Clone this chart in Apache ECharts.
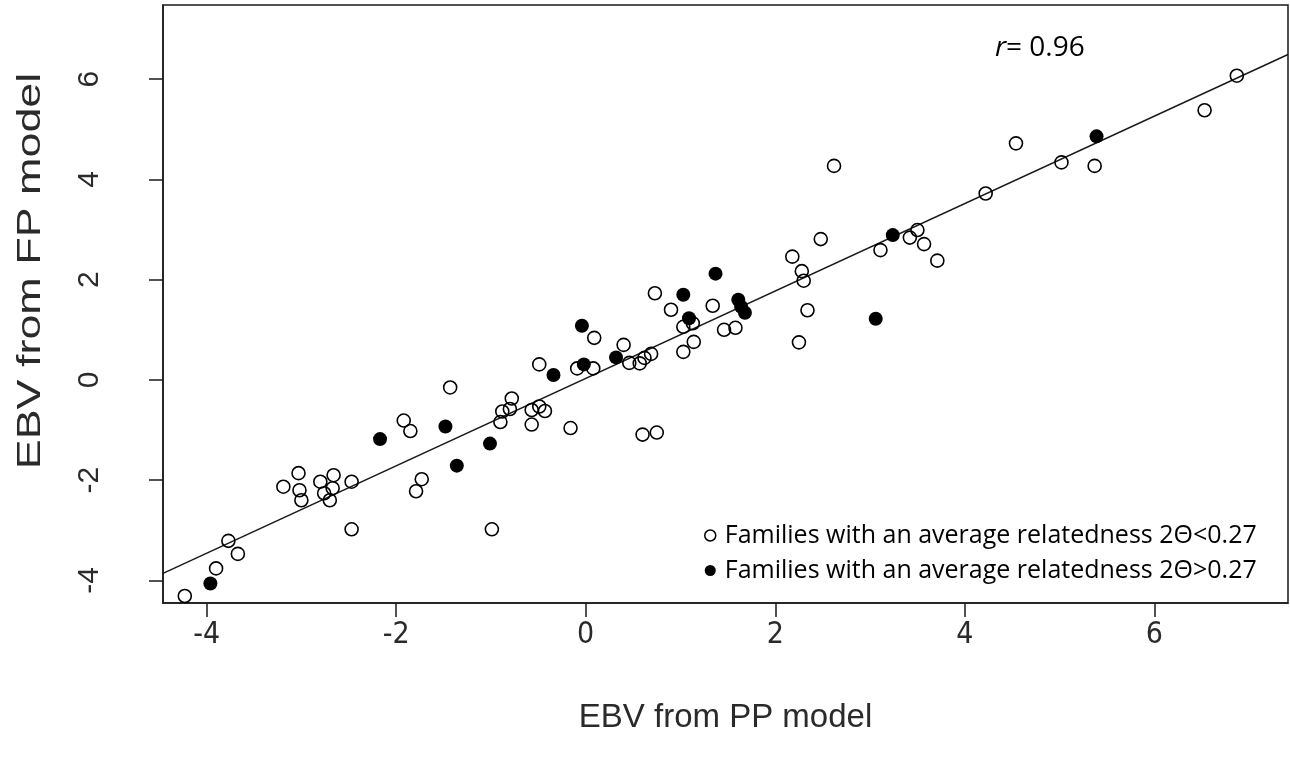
<!DOCTYPE html>
<html>
<head>
<meta charset="utf-8">
<script src="https://cdn.jsdelivr.net/npm/echarts@6/dist/echarts.min.js"></script>
<style>
  html, body { margin: 0; padding: 0; background: #fff; }
  #main { width: 1290px; height: 765px; }
</style>
</head>
<body>
<div id="main"></div>
<script>
// families with average relatedness 2Θ < 0.27 (open circles)
const openX = [-4.23, -3.90, -3.77, -3.67, -3.19, -3.03, -3.02, -3.00, -2.80, -2.66, -2.67, -2.76, -2.70, -2.47, -2.47,
  -1.92, -1.85, -1.73, -1.79, -1.43, -0.99, -0.90, -0.88, -0.80, -0.78, -0.57, -0.57, -0.49, -0.43, -0.16,
  -0.49, -0.09, 0.08, 0.09, 0.40, 0.46, 0.57, 0.62, 0.69, 0.60, 0.75, 0.73, 0.90, 1.03, 1.13, 1.14, 1.03,
  1.34, 1.46, 1.58, 2.18, 2.28, 2.30, 2.34, 2.25, 2.48, 2.62, 3.11, 3.42, 3.50, 3.57, 3.71, 4.22, 4.54,
  5.02, 5.37, 6.53, 6.87];
const openY = [-4.31, -3.76, -3.21, -3.47, -2.13, -1.86, -2.20, -2.40, -2.03, -1.90, -2.16, -2.26, -2.40, -2.03, -2.98,
  -0.81, -1.02, -1.98, -2.22, -0.15, -2.98, -0.84, -0.63, -0.58, -0.37, -0.60, -0.89, -0.53, -0.62, -0.96,
  0.31, 0.23, 0.23, 0.84, 0.70, 0.34, 0.33, 0.44, 0.52, -1.09, -1.05, 1.73, 1.40, 1.06, 1.13, 0.76, 0.56,
  1.48, 1.00, 1.04, 2.46, 2.17, 1.98, 1.39, 0.75, 2.81, 4.27, 2.59, 2.84, 2.99, 2.71, 2.38, 3.72, 4.72,
  4.34, 4.27, 5.38, 6.07];

// families with average relatedness 2Θ > 0.27 (filled circles)
const filledX = [-3.96, -2.17, -1.48, -1.36, -1.01, -0.34, -0.04, -0.02, 0.32, 1.03, 1.09, 1.37, 1.61, 1.64, 1.68, 3.06, 3.24, 5.39];
const filledY = [-4.06, -1.18, -0.93, -1.71, -1.27, 0.10, 1.08, 0.31, 0.45, 1.70, 1.23, 2.12, 1.60, 1.46, 1.34, 1.22, 2.89, 4.86];

// fitted line y = a + b*x
const fitIntercept = 0.03;
const fitSlope = 0.872;

const tickValues = [-4, -2, 0, 2, 4, 6];
const xRange = [-4.46, 7.41];
const yRange = [-4.45, 7.48];

const openName = 'Families with an average relatedness 2\u0398<0.27';
const filledName = 'Families with an average relatedness 2\u0398>0.27';
const rText = '= 0.96';

const zip = (xs, ys) => xs.map((x, i) => [x, ys[i]]);
const fitLine = xRange.map(x => [x, fitIntercept + fitSlope * x]);

const axisFont = '"Liberation Sans Narrow", "DejaVu Sans Condensed", "Liberation Sans", Arial, sans-serif';
const noteFont = '"Open Sans", "Noto Sans", sans-serif';
const ink = '#1a1a1a';

const myChart = echarts.init(document.getElementById('main'));
myChart.setOption({
  backgroundColor: '#fff',
  animation: false,
  grid: {
    left: 163, right: 2, top: 5, bottom: 162,
    show: true, borderColor: ink, borderWidth: 1.5, backgroundColor: 'transparent'
  },
  xAxis: {
    type: 'value', min: xRange[0], max: xRange[1],
    name: 'EBV from PP model', nameLocation: 'middle', nameGap: 98,
    nameTextStyle: { fontFamily: '"Liberation Sans", Arial, sans-serif', fontSize: 33, color: '#2a2a2a' },
    axisLine: { show: true, onZero: false, lineStyle: { color: ink, width: 1.5 } },
    axisTick: { show: true, length: 14, customValues: tickValues, lineStyle: { color: ink, width: 1.5 } },
    axisLabel: { customValues: tickValues, margin: 17, fontSize: 30, fontFamily: axisFont, color: '#2a2a2a' },
    splitLine: { show: false }
  },
  yAxis: {
    type: 'value', min: yRange[0], max: yRange[1],
    axisLine: { show: true, onZero: false, lineStyle: { color: ink, width: 1.5 } },
    axisTick: { show: true, length: 14, customValues: tickValues, lineStyle: { color: ink, width: 1.5 } },
    axisLabel: { customValues: tickValues, rotate: 90, margin: 58, fontSize: 30, fontFamily: '"Liberation Sans", Arial, sans-serif', color: '#2a2a2a' },
    splitLine: { show: false }
  },
  legend: {
    orient: 'vertical', left: 699, top: 513,
    itemWidth: 11, itemHeight: 11, itemGap: 0,
    textStyle: { fontFamily: noteFont, fontSize: 25, color: '#000', lineHeight: 35, padding: [0, 0, 0, 4] },
    data: [
      { name: openName, icon: 'circle', itemStyle: { color: '#fff', borderColor: '#000', borderWidth: 1.5 } },
      { name: filledName, icon: 'circle', itemStyle: { color: '#000', borderWidth: 0 } }
    ]
  },
  graphic: [
    {
      type: 'text', x: 31, y: 271, rotation: Math.PI / 2, scaleX: 1.36,
      style: {
        text: 'EBV from FP model', fill: '#2a2a2a',
        font: '33px "Liberation Sans", Arial, sans-serif',
        textAlign: 'center', textVerticalAlign: 'middle'
      }
    },
    {
      type: 'text', x: 995, y: 48,
      style: {
        text: '{i|r}' + rText, fill: '#000',
        font: '28px "Open Sans", "Noto Sans", sans-serif',
        textVerticalAlign: 'middle',
        rich: { i: { fontStyle: 'italic', fontSize: 28, fontFamily: noteFont } }
      }
    }
  ],
  series: [
    {
      type: 'line', data: fitLine, symbol: 'none', silent: true,
      lineStyle: { color: ink, width: 1.5 }, z: 1
    },
    {
      name: openName, type: 'scatter', data: zip(openX, openY),
      symbol: 'circle', symbolSize: 13,
      itemStyle: { color: 'transparent', borderColor: '#000', borderWidth: 1.6, opacity: 1 }, z: 2
    },
    {
      name: filledName, type: 'scatter', data: zip(filledX, filledY),
      symbol: 'circle', symbolSize: 14,
      itemStyle: { color: '#000', opacity: 1 }, z: 3
    }
  ]
});
</script>
</body>
</html>
